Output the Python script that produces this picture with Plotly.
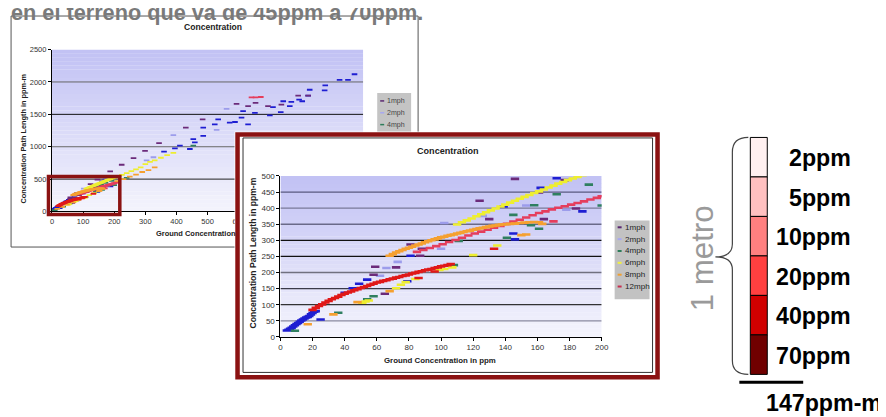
import plotly.graph_objects as go

W, H = 886, 417
OFF = 8            # body margin of the page around the figure
S = 886 / 894      # page is fitted to the window width


def fx(p):
    return (p / S - OFF) / W


def fy(p):
    return 1 - (p / S - OFF) / H


# ---------------- data ----------------
blue_x = [4, 5, 6, 7, 8, 9, 10, 11, 12, 13, 14, 15, 16, 17, 18, 19, 20, 21, 22, 25, 40, 45, 49, 54, 79, 81, 139, 145, 146, 162, 172, 188,
          360, 395, 411, 443, 454, 459, 486, 486, 523, 534, 571, 588, 609, 614, 630, 652, 700, 710, 735, 743, 764, 769, 794, 804, 823, 828, 876, 878, 924, 951, 972]
blue_y = [20, 22, 25, 28, 32, 36, 40, 43, 47, 51, 54, 57, 60, 62, 65, 70, 74, 78, 80, 54, 137, 151, 165, 178, 173, 252, 405, 321, 303, 463, 493, 390,
          925, 975, 1016, 965, 1117, 1067, 1169, 1296, 1346, 1422, 1372, 1382, 1448, 1550, 1346, 1524, 1483, 1611, 1535, 1702, 1626, 1692, 1727, 1702, 1788, 1880, 1870, 1947, 2032, 2032, 2119]

mph1_x = [58, 59, 65, 72, 81, 87, 88, 124, 130, 146, 161, 164, 177, 184,
          187, 224, 262, 299, 344, 430, 484, 593, 630, 654, 694, 737, 791, 823]
mph1_y = [193, 218, 134, 216, 287, 252, 274, 423, 366, 491, 449, 366, 487, 399,
          620, 722, 823, 935, 1057, 1296, 1422, 1662, 1626, 1677, 1626, 1651, 1788, 1788]

mph2_x = [62, 66, 73, 100, 102, 126, 153, 178, 304, 326, 390, 529, 561]
mph2_y = [190, 214, 233, 274, 354, 376, 408, 395, 788, 838, 1179, 1260, 1585]

mph4_x = [9, 36, 54, 58, 108, 111, 141, 145, 156, 158, 161, 172, 192, 200, 240, 454]
mph4_y = [19, 75, 117, 126, 223, 298, 308, 379, 347, 409, 336, 443, 473, 408, 518, 1016]

mph6_x = [51, 53, 55, 72, 75, 78, 84, 99, 102, 107, 120, 135,
          110, 113, 116, 119, 122, 125, 128, 131, 134, 137, 140, 143, 146, 149, 152, 155, 158, 161, 164, 167, 170, 173, 176, 179, 182, 185, 188,
          195, 205, 215, 225, 240, 255, 270, 285, 300, 315, 330, 350, 370, 390]
mph6_y = [106, 110, 113, 151, 162, 170, 180, 208, 211, 216, 254, 284,
          349, 356, 362, 368, 375, 381, 387, 393, 399, 405, 411, 417, 423, 429, 435, 441, 447, 452, 458, 464, 470, 476, 481, 487, 492, 497, 502,
          512, 528, 548, 566, 592, 622, 650, 680, 730, 765, 790, 830, 870, 905]

mph8_x = [17, 33, 48, 68, 150, 153,
          68, 70, 72, 74, 76, 78, 80, 82, 84, 86, 88, 90, 92, 94, 96, 98, 100, 102, 104, 106, 108, 110, 112, 114, 116, 118, 120, 122, 124, 126, 128, 130, 132, 134, 136, 138, 140,
          143, 146, 149, 152, 155, 158, 161, 163,
          210, 230, 250, 270, 290, 310, 330]
mph8_y = [39, 70, 108, 142, 316, 318,
          252, 257, 262, 266, 270, 274, 277, 280, 284, 287, 290, 294, 297, 300, 303, 306, 309, 311, 314, 316, 318, 321, 323, 326, 328, 330, 333, 335, 337, 339, 341, 343, 345, 346, 348, 349, 350,
          351, 352, 354, 355, 356, 357, 356, 351,
          470, 500, 540, 570, 610, 640, 680]

mph12_x = [85, 89, 93, 97, 101, 105, 109, 113, 117, 121, 125, 129, 133, 137, 141, 145, 149, 153, 157, 161, 165, 169, 173, 177, 181, 185, 189, 193, 197, 200,
           170, 205, 210, 641, 654, 671]
mph12_y = [264, 270, 276, 282, 288, 295, 301, 308, 315, 321, 327, 333, 339, 345, 351, 358, 364, 371, 378, 385, 390, 396, 401, 406, 411, 416, 421, 427, 432, 437,
           359, 445, 452, 1763, 1763, 1768]

red_x = [20, 22, 24, 26, 28, 30, 32, 34, 36, 38, 40, 42, 44, 46, 48, 50, 52, 54, 56, 58, 60, 62, 64, 66, 68, 70, 72, 74, 76, 78, 80, 82, 84, 86, 88, 90, 92, 94, 96, 98, 100, 102, 104, 106,
         86, 96, 133]
red_y = [84, 90, 96, 101, 107, 112, 117, 121, 125, 130, 134, 138, 141, 145, 148, 152, 155, 158, 162, 165, 169, 171, 174, 176, 179, 181, 184, 186, 189, 191, 194, 197, 199, 202, 204, 207, 209, 211, 214, 216, 219, 221, 223, 226,
         183, 203, 274]

legend_labels = ["1mph", "2mph", "4mph", "6mph", "8mph", "12mph"]
small_legend_labels = ["1mph", "2mph", "4mph"]

small_x_ticks = [0, 100, 200, 300, 400, 500, 600, 700, 800, 900, 1000]
small_y_ticks = [0, 500, 1000, 1500, 2000, 2500]
big_x_ticks = [0, 20, 40, 60, 80, 100, 120, 140, 160, 180, 200]
big_y_ticks = [0, 50, 100, 150, 200, 250, 300, 350, 400, 450, 500]

conc_labels = ["2ppm", "5ppm", "10ppm", "20ppm", "40ppm", "70ppm"]
scale_label = "147ppm-m"
side_label = "1 metro"
top_text = "en el terreno que va de 45ppm a 70ppm."
chart_title = "Concentration"
y_title = "Concentration Path Length in ppm-m"
x_title = "Ground Concentration in ppm"
x_title_visible = "Ground Concentration"

# ---------------- styles ----------------
FONT = "Arial"
DARKRED = "#8B1212"
series = [
    (None, blue_x, blue_y, "#1E1ED2"),
    ("2mph", mph2_x, mph2_y, "#9C9CEB"),
    ("4mph", mph4_x, mph4_y, "#2F7F60"),
    ("1mph", mph1_x, mph1_y, "#6B2A7A"),
    ("6mph", mph6_x, mph6_y, "#EEEE30"),
    ("12mph", mph12_x, mph12_y, "#E53D5C"),
    ("8mph", mph8_x, mph8_y, "#F5A030"),
    (None, red_x, red_y, "#E01818"),
]
legend_colors = {"1mph": "#5A2870", "2mph": "#A8A8F0", "4mph": "#2E7D5A",
                 "6mph": "#F0F040", "8mph": "#F0A030", "12mph": "#C83050"}
conc_colors = ["#FFF0F0", "#FFC0C0", "#FF8080", "#FF4040", "#D00000", "#700000"]

fig = go.Figure()

# small (background) chart traces
for name, xs, ys, c in series:
    fig.add_trace(go.Scatter(x=xs, y=ys, mode="markers", name=name or "serie",
                             xaxis="x", yaxis="y", showlegend=False, hoverinfo="skip",
                             marker=dict(symbol="line-ew", size=4, line=dict(width=1.8, color=c))))

# cover subplot (white card of the zoomed chart)
fig.add_trace(go.Scatter(x=[], y=[], xaxis="x2", yaxis="y2", showlegend=False, hoverinfo="skip"))

# big (zoomed) chart traces
for name, xs, ys, c in series:
    fig.add_trace(go.Scatter(x=xs, y=ys, mode="markers", name=name or "serie",
                             xaxis="x3", yaxis="y3", showlegend=False, hoverinfo="skip",
                             marker=dict(symbol="line-ew", size=6, line=dict(width=2.6, color=c))))

shapes = []
# small chart card
shapes.append(dict(type="rect", xref="paper", yref="paper", x0=fx(9), x1=fx(417), y0=fy(246), y1=fy(12),
                   fillcolor="white", line=dict(color="#555", width=1), layer="below"))
# small legend box
shapes.append(dict(type="rect", xref="paper", yref="paper", x0=fx(376), x1=fx(410), y0=fy(140), y1=fy(90),
                   fillcolor="#C4C4C4", line=dict(width=0), layer="below"))
for i, lab in enumerate(small_legend_labels):
    yy = 98 + 12 * i
    shapes.append(dict(type="line", xref="paper", yref="paper", x0=fx(379), x1=fx(383), y0=fy(yy), y1=fy(yy),
                       line=dict(color=legend_colors[lab], width=1.5), layer="below"))


def mix(t, top=(193, 193, 244), bot=(244, 244, 252)):
    return "rgb(%d,%d,%d)" % tuple(round(top[k] * (1 - t) + bot[k] * t) for k in range(3))


NB = 40
# small chart gradient
for i in range(NB):
    y0 = 2500 * i / NB
    y1 = 2500 * (i + 1) / NB
    shapes.append(dict(type="rect", xref="x", yref="y", x0=0, x1=1000, y0=y0, y1=min(y1 + 2, 2500),
                       fillcolor=mix(1 - (i + 0.5) / NB), line=dict(width=0), layer="below"))
small_grid_col = {500: "#222", 1000: "#666", 1500: "#111", 2000: "#666"}
for v in small_y_ticks[1:-1]:
    shapes.append(dict(type="line", xref="x", yref="y", x0=0, x1=1000, y0=v, y1=v,
                       line=dict(color=small_grid_col[v], width=1), layer="below"))
# big chart gradient
for i in range(NB):
    y0 = 500 * i / NB
    y1 = 500 * (i + 1) / NB
    shapes.append(dict(type="rect", xref="x3", yref="y3", x0=0, x1=200, y0=y0, y1=min(y1 + 0.5, 500),
                       fillcolor=mix(1 - (i + 0.5) / NB), line=dict(width=0), layer="below"))
big_grid_col = {50: "#8a8aa0", 100: "#333", 150: "#3a3a48", 200: "#707080", 250: "#111",
                300: "#111", 350: "#6a6a88", 400: "#7a7a98", 450: "#5a5a80"}
for v in big_y_ticks[1:-1]:
    shapes.append(dict(type="line", xref="x3", yref="y3", x0=0, x1=200, y0=v, y1=v,
                       line=dict(color=big_grid_col[v], width=1.3), layer="below"))

# highlight rectangle on small chart
shapes.append(dict(type="rect", xref="paper", yref="paper", x0=fx(46.5), x1=fx(118), y0=fy(213), y1=fy(174.5),
                   line=dict(color=DARKRED, width=3.5), layer="above"))
# zoomed chart frame
shapes.append(dict(type="rect", xref="paper", yref="paper", x0=fx(236), x1=fx(657), y0=fy(378), y1=fy(132),
                   line=dict(color=DARKRED, width=4.5), layer="above"))
shapes.append(dict(type="rect", xref="paper", yref="paper", x0=fx(241.5), x1=fx(652), y0=fy(373), y1=fy(135.5),
                   line=dict(color="#333", width=1), layer="above"))
# big legend
shapes.append(dict(type="rect", xref="paper", yref="paper", x0=fx(614), x1=fx(649), y0=fy(299), y1=fy(219),
                   fillcolor="#C2C2C2", line=dict(width=0), layer="above"))
for i, lab in enumerate(legend_labels):
    yy = 226 + 12 * i
    shapes.append(dict(type="line", xref="paper", yref="paper", x0=fx(617), x1=fx(621), y0=fy(yy), y1=fy(yy),
                       line=dict(color=legend_colors[lab], width=2), layer="above"))

# concentration scale
for i, c in enumerate(conc_colors):
    shapes.append(dict(type="rect", xref="paper", yref="paper", x0=fx(750), x1=fx(767),
                       y0=fy(135 + 40 * (i + 1)), y1=fy(135 + 40 * i),
                       fillcolor=c, line=dict(color="black", width=1), layer="above"))
brace_pts = [("M", 748, 135), ("Q", 732, 135), ("", 732, 150), ("L", 732, 243), ("Q", 732, 256), ("", 715, 256),
             ("Q", 732, 256), ("", 732, 269), ("L", 732, 361), ("Q", 732, 375), ("", 748, 375)]
path = " ".join("%s%.5f,%.5f" % (cmd, fx(px), fy(py)) for cmd, px, py in brace_pts)
shapes.append(dict(type="path", xref="paper", yref="paper", path=path,
                   line=dict(color="#444", width=1.2), layer="above"))
shapes.append(dict(type="line", xref="paper", yref="paper", x0=fx(739), x1=fx(803), y0=fy(383), y1=fy(383),
                   line=dict(color="black", width=3), layer="above"))


def ann(text, x, y, size, color="#222", bold=False, xanchor="center", yanchor="middle", angle=0):
    return dict(text="<b>%s</b>" % text if bold else text, x=fx(x), y=fy(y), xref="paper", yref="paper",
                showarrow=False, font=dict(size=size / S, color=color, family=FONT),
                xanchor=xanchor, yanchor=yanchor, textangle=angle)


annotations = [
    ann(top_text, 7, 8, 21.5, color="#7A7A7A", bold=True, xanchor="left"),
    ann(chart_title, 211, 23, 8.5, bold=True),
    ann(y_title, 21, 136, 7.3, bold=True, angle=-90),
    ann(x_title_visible, 152, 232, 7.4, bold=True, xanchor="left"),
    ann(chart_title, 447, 149, 9, bold=True),
    ann(y_title, 251, 252, 8.5, bold=True, angle=-90),
    ann(x_title, 439, 361, 7.8, bold=True),
    ann(side_label, 702, 257, 31, color="#9A9A9A", angle=-90),
    ann(scale_label, 824, 404, 23, color="black", bold=True),
]
for i, lab in enumerate(small_legend_labels):
    annotations.append(ann(lab, 384, 98 + 12 * i, 7, color="#444", xanchor="left"))
for i, lab in enumerate(legend_labels):
    annotations.append(ann(lab, 622, 226 + 12 * i, 8, color="#222", xanchor="left"))
for i, lab in enumerate(conc_labels):
    annotations.append(ann(lab, 853, 156 + 40 * i, 23, color="black", bold=True, xanchor="right"))

axis_common = dict(ticks="outside", ticklen=3, tickcolor="black", showline=True, linecolor="black",
                   linewidth=1, showgrid=False, zeroline=False, fixedrange=True)

fig.update_layout(
    width=W, height=H, autosize=False,
    margin=dict(l=0, r=0, t=0, b=0, pad=0),
    paper_bgcolor="white", plot_bgcolor="white",
    showlegend=False,
    xaxis=dict(domain=[fx(50), fx(362)], range=[0, 1000], tickvals=small_x_ticks, anchor="y",
               tickfont=dict(size=7.5, color="#333", family=FONT), **axis_common),
    yaxis=dict(domain=[fy(210), fy(46)], range=[0, 2500], tickvals=small_y_ticks, anchor="x",
               tickfont=dict(size=7.5, color="#333", family=FONT), **axis_common),
    xaxis2=dict(domain=[fx(233), fx(660)], range=[0, 1], visible=False, anchor="y2", fixedrange=True),
    yaxis2=dict(domain=[fy(381), fy(129)], range=[0, 1], visible=False, anchor="x2", fixedrange=True),
    xaxis3=dict(domain=[fx(279), fx(601)], range=[0, 200], tickvals=big_x_ticks, anchor="y3",
                tickfont=dict(size=8, color="#333", family=FONT), **axis_common),
    yaxis3=dict(domain=[fy(337), fy(174)], range=[0, 500], tickvals=big_y_ticks, anchor="x3",
                tickfont=dict(size=8, color="#333", family=FONT), **axis_common),
    shapes=shapes,
    annotations=annotations,
)

fig.write_html("out.html")
